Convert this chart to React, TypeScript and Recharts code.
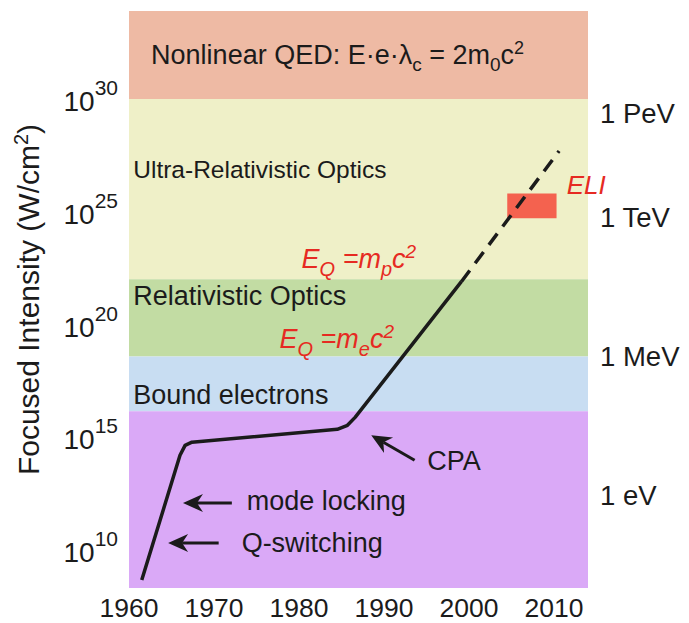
import React from 'react';
import {
  ComposedChart,
  Line,
  XAxis,
  YAxis,
  ReferenceArea,
  ReferenceDot,
  ReferenceLine,
} from 'recharts';

// laser intensity history: year vs log10(intensity in W/cm^2)
const solidYears = [1961.5, 1966.0, 1966.6, 1967.4, 1984.5, 1985.7, 1986.6, 1999.1];
const solidExp = [8.75, 14.29, 14.73, 14.87, 15.44, 15.62, 15.97, 21.99];
const dashedYears = [1999.1, 2010.6];
const dashedExp = [21.99, 27.79];

const yearTicks = [1960, 1970, 1980, 1990, 2000, 2010];
const expTicks = [10, 15, 20, 25, 30];

const energyLabels = ['1 PeV', '1 TeV', '1 MeV', '1 eV'];
const energyExp = [29.45, 24.82, 18.63, 12.48];

// regimes (background bands)
const bandNames = ['qed', 'ultra', 'relativistic', 'bound', 'lasers'];
const bandFrom = [30.1, 22.1, 18.67, 16.24, 8.4];
const bandTo = [34, 30.1, 22.1, 18.67, 16.24];
const bandColors = ['#eebaa4', '#eff0c8', '#c2dca3', '#c8ddf2', '#daa9f7'];

// ELI box
const eliYears = [2004.5, 2010.3];
const eliExp = [24.81, 25.9];

// text notes, anchored at their left baseline
const noteKeys = ['qed', 'ultra', 'rel', 'bound', 'mp', 'me', 'eli', 'cpa', 'mode', 'qsw'];
const noteYears = [1962.6, 1960.5, 1960.5, 1960.5, 1980.3, 1977.7, 2011.5, 1995.1, 1973.85, 1973.25];
const noteExp = [31.64, 26.59, 20.97, 16.55, 22.61, 19.03, 25.88, 13.63, 11.86, 10.0];
const noteSizes = [27, 24.5, 27, 27, 27, 27, 26, 27, 27, 27];

// arrows: tail -> tip
const arrowFromYears = [1993.6, 1972.1, 1970.55];
const arrowFromExp = [14.07, 12.17, 10.4];
const arrowToYears = [1988.5, 1966.35, 1964.6];
const arrowToExp = [15.18, 12.17, 10.4];

const solidData = solidYears.map((year, i) => ({ year, v: solidExp[i] }));
const dashedData = dashedYears.map((year, i) => ({ year, v: dashedExp[i] }));

const INK = '#1b1b1b';
const RED = '#e62a22';
const FONT = '"Liberation Sans", Arial, sans-serif';

const noteText = (key: string) => {
  switch (key) {
    case 'qed':
      return (
        <>
          Nonlinear QED: E·e·λ
          <tspan dy={7} fontSize={19}>c</tspan>
          <tspan dy={-7}> = 2m</tspan>
          <tspan dy={7} fontSize={19}>0</tspan>
          <tspan dy={-7}>c</tspan>
          <tspan dy={-10} fontSize={18}>2</tspan>
        </>
      );
    case 'ultra':
      return 'Ultra-Relativistic Optics';
    case 'rel':
      return 'Relativistic Optics';
    case 'bound':
      return 'Bound electrons';
    case 'mp':
    case 'me':
      return (
        <>
          E
          <tspan dy={8} fontSize={20}>Q</tspan>
          <tspan dy={-8}> =m</tspan>
          <tspan dy={8} fontSize={20}>{key === 'mp' ? 'p' : 'e'}</tspan>
          <tspan dy={-8}>c</tspan>
          <tspan dy={-10} fontSize={19}>2</tspan>
        </>
      );
    case 'eli':
      return 'ELI';
    case 'cpa':
      return 'CPA';
    case 'mode':
      return 'mode locking';
    case 'qsw':
      return 'Q-switching';
    default:
      return '';
  }
};

const isRed = (key: string) => key === 'mp' || key === 'me' || key === 'eli';

const Arrow = (props: any) => {
  const { x1, y1, x2, y2 } = props;
  const dx = x2 - x1;
  const dy = y2 - y1;
  const len = Math.sqrt(dx * dx + dy * dy) || 1;
  const ux = dx / len;
  const uy = dy / len;
  const nx = -uy;
  const ny = ux;
  const head = 20;
  const half = 9;
  const bx = x2 - ux * head;
  const by = y2 - uy * head;
  const kx = x2 - ux * 14;
  const ky = y2 - uy * 14;
  return (
    <g>
      <line x1={x1} y1={y1} x2={kx} y2={ky} stroke={INK} strokeWidth={3} />
      <polygon
        points={`${x2},${y2} ${bx + nx * half},${by + ny * half} ${kx},${ky} ${bx - nx * half},${by - ny * half}`}
        fill={INK}
      />
    </g>
  );
};

const ExpTick = (props: any) => {
  const { x, y, payload } = props;
  return (
    <text x={x - 3} y={y} dy={10} textAnchor="end" fill={INK} fontSize={28}>
      10
      <tspan dy={-16} fontSize={21}>{payload.value}</tspan>
    </text>
  );
};

const EnergyTick = (props: any) => {
  const { x, y, payload } = props;
  const i = energyExp.indexOf(payload.value);
  return (
    <text x={x} y={y} dy={9} textAnchor="start" fill={INK} fontSize={27.5}>
      {energyLabels[i]}
    </text>
  );
};

const YearTick = (props: any) => {
  const { x, y, payload } = props;
  return (
    <text x={x} y={y} dy={17} textAnchor="middle" fill={INK} fontSize={26.5}>
      {payload.value}
    </text>
  );
};

const YLabel = (props: any) => {
  const vb = props.viewBox || { x: 0, y: 0, width: 0, height: 0 };
  const cx = vb.x + 31;
  const cy = vb.y + vb.height / 2;
  return (
    <text
      x={cx}
      y={cy}
      transform={`rotate(-90, ${cx}, ${cy})`}
      textAnchor="middle"
      fill={INK}
      fontSize={30}
    >
      Focused Intensity (W/cm
      <tspan dy={-11} fontSize={20}>2</tspan>
      <tspan dy={11}>)</tspan>
    </text>
  );
};

export default function App() {
  return (
    <div style={{ width: 681, height: 615, fontFamily: FONT }}>
      <ComposedChart width={681} height={615} margin={{ top: 3, right: 0, bottom: 0, left: 0 }}>
        <XAxis
          dataKey="year"
          type="number"
          domain={[1960, 2014]}
          ticks={yearTicks}
          allowDataOverflow
          axisLine={false}
          tickLine={false}
          tickSize={0}
          tickMargin={12}
          height={35}
          tick={<YearTick />}
        />
        <YAxis
          type="number"
          domain={[8.4, 34]}
          ticks={expTicks}
          allowDataOverflow
          axisLine={false}
          tickLine={false}
          tickSize={0}
          tickMargin={8}
          width={121}
          tick={<ExpTick />}
          label={(p: any) => <YLabel {...p} />}
        />
        <YAxis
          yAxisId="right"
          orientation="right"
          type="number"
          domain={[8.4, 34]}
          ticks={energyExp}
          allowDataOverflow
          axisLine={false}
          tickLine={false}
          tickSize={0}
          tickMargin={12}
          width={101}
          tick={<EnergyTick />}
        />

        {bandNames.map((name, i) => (
          <ReferenceArea
            key={name}
            x1={1960}
            x2={2014}
            y1={bandFrom[i]}
            y2={bandTo[i]}
            fill={bandColors[i]}
            fillOpacity={1}
            stroke="none"
          />
        ))}

        <ReferenceArea
          x1={eliYears[0]}
          x2={eliYears[1]}
          y1={eliExp[0]}
          y2={eliExp[1]}
          fill="#f4624f"
          fillOpacity={1}
          stroke="none"
        />

        <Line
          data={solidData}
          dataKey="v"
          type="linear"
          stroke={INK}
          strokeWidth={3.5}
          dot={false}
          isAnimationActive={false}
          strokeLinejoin="round"
        />
        <Line
          data={dashedData}
          dataKey="v"
          type="linear"
          stroke={INK}
          strokeWidth={3.5}
          strokeDasharray="14 9"
          dot={false}
          isAnimationActive={false}
        />

        {arrowFromYears.map((year, i) => (
          <ReferenceLine
            key={`arrow-${i}`}
            segment={[
              { x: year, y: arrowFromExp[i] },
              { x: arrowToYears[i], y: arrowToExp[i] },
            ]}
            ifOverflow="visible"
            shape={(p: any) => <Arrow {...p} />}
          />
        ))}

        {noteKeys.map((key, i) => (
          <ReferenceDot
            key={key}
            x={noteYears[i]}
            y={noteExp[i]}
            r={0}
            ifOverflow="visible"
            shape={(p: any) => (
              <text
                x={p.cx}
                y={p.cy}
                fill={isRed(key) ? RED : INK}
                fontStyle={isRed(key) ? 'italic' : 'normal'}
                fontSize={noteSizes[i]}
              >
                {noteText(key)}
              </text>
            )}
          />
        ))}
      </ComposedChart>
    </div>
  );
}
